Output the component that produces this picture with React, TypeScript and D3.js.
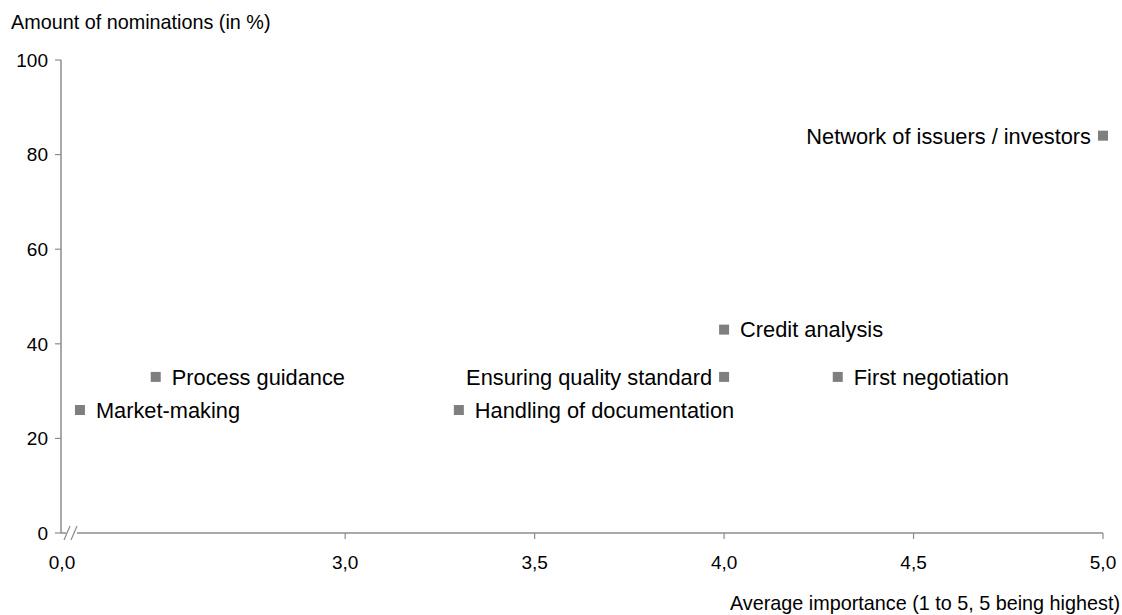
import React from "react";
import * as d3 from "d3";

// values
const names = [
  "Market-making",
  "Process guidance",
  "Handling of documentation",
  "Ensuring quality standard",
  "Credit analysis",
  "First negotiation",
  "Network of issuers / investors",
];
const importance = [2.3, 2.5, 3.3, 4.0, 4.0, 4.3, 5.0];
const nominations = [26, 33, 26, 33, 43, 33, 84];
const labelSide = ["right", "right", "right", "left", "right", "right", "left"];

const xTicks = [3.0, 3.5, 4.0, 4.5, 5.0];
const yTicks = [0, 20, 40, 60, 80, 100];

const W = 1122;
const H = 615;
const FONT = "'Liberation Sans', Arial, sans-serif";

export default function App() {
  const x = d3.scaleLinear().domain([2.25, 5]).range([61, 1103]);
  const y = d3.scaleLinear().domain([0, 100]).range([533, 60]);
  const fmt = (v: number) => v.toFixed(1).replace(".", ",");
  const axisColor = "#8c8c8c";
  const x0 = x(2.25);

  return (
    <svg
      width={W}
      height={H}
      style={{ position: "absolute", left: 0, top: 0, background: "#fff" }}
      fontFamily={FONT}
    >
      {/* y axis title */}
      <text x={11} y={29} fontSize={19.8} fill="#000">
        Amount of nominations (in %)
      </text>

      {/* y axis */}
      <line x1={x0} x2={x0} y1={y(100)} y2={y(0)} stroke={axisColor} strokeWidth={1.5} />
      {yTicks.map((t) => (
        <g key={t}>
          <line x1={x0 - 6} x2={x0} y1={y(t)} y2={y(t)} stroke={axisColor} strokeWidth={1.2} />
          <text x={48} y={y(t)} dy="0.36em" textAnchor="end" fontSize={19} fill="#000">
            {t}
          </text>
        </g>
      ))}

      {/* x axis with break */}
      <line x1={x0} x2={x0 + 5} y1={y(0)} y2={y(0)} stroke={axisColor} strokeWidth={1.5} />
      <line x1={x0 + 16} x2={x(5)} y1={y(0)} y2={y(0)} stroke={axisColor} strokeWidth={1.5} />
      <line x1={x0 + 3} x2={x0 + 9} y1={y(0) + 7} y2={y(0) - 7} stroke={axisColor} strokeWidth={1.2} />
      <line x1={x0 + 10} x2={x0 + 16} y1={y(0) + 7} y2={y(0) - 7} stroke={axisColor} strokeWidth={1.2} />
      <text x={x0 + 1} y={y(0) + 36} textAnchor="middle" fontSize={19} fill="#000">
        0,0
      </text>
      {xTicks.map((t) => (
        <g key={t}>
          <line x1={x(t)} x2={x(t)} y1={y(0)} y2={y(0) + 6} stroke={axisColor} strokeWidth={1.2} />
          <text x={x(t)} y={y(0) + 36} textAnchor="middle" fontSize={19} fill="#000">
            {fmt(t)}
          </text>
        </g>
      ))}
      <text x={1120} y={610} textAnchor="end" fontSize={19.8} fill="#000">
        Average importance (1 to 5, 5 being highest)
      </text>

      {/* points */}
      {names.map((n, i) => {
        const cx = x(importance[i]);
        const cy = y(nominations[i]);
        const left = labelSide[i] === "left";
        return (
          <g key={n}>
            <rect x={cx - 5} y={cy - 5} width={10} height={10} fill="#7f7f7f" />
            <text
              x={left ? cx - 12 : cx + 16}
              y={cy}
              dy="0.36em"
              textAnchor={left ? "end" : "start"}
              fontSize={21.8}
              fill="#000"
            >
              {n}
            </text>
          </g>
        );
      })}
    </svg>
  );
}
